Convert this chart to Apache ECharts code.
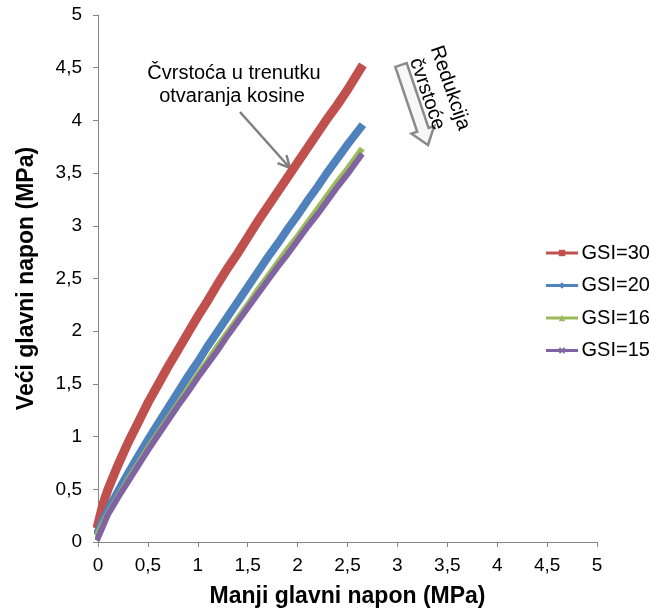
<!DOCTYPE html>
<html><head><meta charset="utf-8">
<script src="https://cdn.jsdelivr.net/npm/echarts@6/dist/echarts.min.js"></script>
<style>html,body{margin:0;padding:0;background:#fff;overflow:hidden}#c{width:651px;height:612px}</style>
</head><body><div id="c"></div>
<script>
// Minor principal stress (MPa)
const sigma3 = [0,0.05,0.1,0.2,0.3,0.4,0.5,0.6,0.7,0.8,0.9,1.0,1.1,1.2,1.3,1.4,1.5,1.6,1.7,1.8,1.9,2.0,2.1,2.2,2.3,2.4,2.5,2.63];
// Major principal stress (MPa) for each GSI
const gsi30 = [0.17,0.36,0.50,0.73,0.94,1.13,1.32,1.49,1.66,1.82,1.98,2.14,2.29,2.45,2.60,2.74,2.89,3.04,3.18,3.32,3.46,3.60,3.74,3.88,4.02,4.15,4.29,4.49];
const gsi20 = [0.10,0.21,0.30,0.48,0.65,0.81,0.97,1.12,1.27,1.42,1.57,1.71,1.86,2.00,2.14,2.28,2.42,2.56,2.70,2.83,2.97,3.10,3.24,3.37,3.51,3.64,3.77,3.93];
const gsi16 = [0.08,0.18,0.27,0.43,0.59,0.74,0.89,1.03,1.17,1.31,1.45,1.59,1.72,1.86,1.99,2.12,2.25,2.39,2.52,2.65,2.78,2.90,3.03,3.16,3.29,3.42,3.54,3.71];
const gsi15 = [0.04,0.15,0.26,0.42,0.57,0.72,0.87,1.01,1.15,1.29,1.42,1.56,1.69,1.82,1.96,2.09,2.22,2.35,2.48,2.61,2.73,2.86,2.99,3.11,3.24,3.37,3.49,3.66];
const seriesNames = ['GSI=30','GSI=20','GSI=16','GSI=15'];
const axisTicks = [0,0.5,1,1.5,2,2.5,3,3.5,4,4.5,5];

const FONT = 'Liberation Sans, Arial, sans-serif';
const toPairs = ys => sigma3.map((x,i)=>[x, ys[i]]);
const fmt = v => String(v).replace('.', ',');

const chart = echarts.init(document.getElementById('c'), null, {renderer:'canvas'});

function mk(name, ys, color, symbol, symSize, lw){
  return {
    name, type:'line', data: toPairs(ys), smooth:false,
    symbol, symbolSize: symSize, showSymbol:false,
    lineStyle:{color, width: lw, cap:'square', join:'miter'},
    itemStyle:{color, borderWidth:0},
    emphasis:{disabled:true}, animation:false
  };
}

function blockArrow(sx, sy, tx, ty, shaftHalf, headHalf, headLen){
  const dx = tx-sx, dy = ty-sy, L = Math.hypot(dx,dy);
  const ux = dx/L, uy = dy/L, nx = -uy, ny = ux;
  const bx = tx-ux*headLen, by = ty-uy*headLen;
  return [
    [sx+nx*shaftHalf, sy+ny*shaftHalf],
    [bx+nx*shaftHalf, by+ny*shaftHalf],
    [bx+nx*headHalf, by+ny*headHalf],
    [tx, ty],
    [bx-nx*headHalf, by-ny*headHalf],
    [bx-nx*shaftHalf, by-ny*shaftHalf],
    [sx-nx*shaftHalf, sy-ny*shaftHalf]
  ];
}
function arrowHead(sx, sy, tx, ty, len, half){
  const dx = tx-sx, dy = ty-sy, L = Math.hypot(dx,dy);
  const ux = dx/L, uy = dy/L, nx = -uy, ny = ux;
  const bx = tx-ux*len, by = ty-uy*len;
  return [[bx+nx*half, by+ny*half],[tx,ty],[bx-nx*half, by-ny*half]];
}

const axisCommon = {
  type:'value', min:0, max:5, interval:0.5,
  axisLine:{show:true, lineStyle:{color:'#868686', width:1}},
  axisTick:{show:true, length:5, lineStyle:{color:'#868686'}},
  splitLine:{show:false},
  axisLabel:{formatter: fmt, color:'#000', fontFamily:FONT, fontSize:19},
  nameTextStyle:{color:'#000', fontFamily:FONT, fontSize:23, fontWeight:'bold'}
};

chart.setOption({
  animation:false,
  backgroundColor:'#fff',
  grid:{left:98, right:54, top:15, bottom:70, containLabel:false, outerBoundsMode:'none'},
  xAxis: Object.assign({}, axisCommon, {
    name:'Manji glavni napon (MPa)', nameLocation:'middle', nameGap:43,
    axisLabel: Object.assign({}, axisCommon.axisLabel, {margin:14})
  }),
  yAxis: Object.assign({}, axisCommon, {
    name:'Veći glavni napon (MPa)', nameLocation:'middle', nameGap:60, nameRotate:90,
    axisLabel: Object.assign({}, axisCommon.axisLabel, {margin:16})
  }),
  legend:{
    orient:'vertical', left:546, top:243, itemWidth:29, itemHeight:8, itemGap:12.5,
    padding:0,
    data: seriesNames,
    textStyle:{fontFamily:FONT, fontSize:20, color:'#000'},
    lineStyle:{width:3},
    selectedMode:false
  },
  series:[
    mk(seriesNames[0], gsi30, '#C0504D', 'rect', 9, 9),
    mk(seriesNames[1], gsi20, '#4F81BD', 'diamond', 8, 8),
    mk(seriesNames[2], gsi16, '#9BBB59', 'triangle', 7, 6),
    mk(seriesNames[3], gsi15, '#8064A2', 'path://M0,2 L2,0 L5,3 L8,0 L10,2 L7,5 L10,8 L8,10 L5,7 L2,10 L0,8 L3,5 Z', 7, 6)
  ],
  graphic:[
    {type:'text', x:234, y:73, style:{text:'Čvrstoća u trenutku', font:'20px '+FONT, fill:'#000', align:'center', verticalAlign:'middle'}},
    {type:'text', x:232, y:96, style:{text:'otvaranja kosine', font:'20px '+FONT, fill:'#000', align:'center', verticalAlign:'middle'}},
    {type:'line', shape:{x1:240, y1:112, x2:290, y2:168}, style:{stroke:'#808080', lineWidth:2.5}},
    {type:'polyline', shape:{points: arrowHead(240,112,290,168,12,6)}, style:{stroke:'#808080', lineWidth:2.5, fill:null}},
    {type:'polygon', shape:{points: blockArrow(401,65,428,145,6,12,16)}, style:{stroke:'#8a8a8a', lineWidth:2.5, fill:'#f7f7f7'}},
    {type:'text', x:450, y:88, rotation:-1.239, style:{text:'Redukcija', font:'20px '+FONT, fill:'#000', align:'center', verticalAlign:'middle'}},
    {type:'text', x:427, y:94, rotation:-1.239, style:{text:'čvrstoće', font:'20px '+FONT, fill:'#000', align:'center', verticalAlign:'middle'}}
  ]
});
</script>
</body></html>
